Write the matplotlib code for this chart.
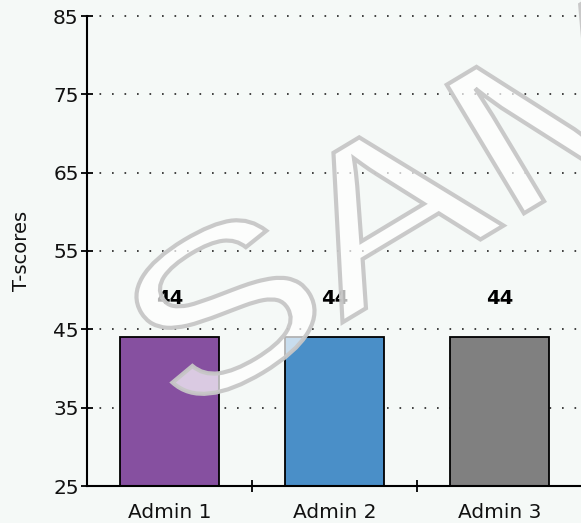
import matplotlib
matplotlib.use("Agg")
import matplotlib.pyplot as plt
from matplotlib.textpath import TextPath
from matplotlib.patches import PathPatch
from matplotlib.font_manager import FontProperties
from matplotlib.transforms import Affine2D, IdentityTransform

categories = ["Admin 1", "Admin 2", "Admin 3"]
values = [44, 44, 44]
colors = ["#8650a0", "#4a8fc8", "#808080"]
yticks = [25, 35, 45, 55, 65, 75, 85]
ylabel = "T-scores"
watermark = "SAMPLE"

BG = "#f5f9f7"
W, H = 581, 523
fig = plt.figure(figsize=(W / 100, H / 100), dpi=100, facecolor=BG)
ax_w = 582 - 87
ax = fig.add_axes([87 / W, 37 / H, ax_w / W, (507 - 37) / H])
ax.set_facecolor(BG)

x = list(range(len(categories)))
ax.bar(x, values, width=0.6, color=colors, edgecolor="black", linewidth=1.3, zorder=3)

for xi, v in zip(x, values):
    ax.annotate(str(v), xy=(xi, v), xytext=(0, 28), textcoords="offset points",
                ha="center", va="center", fontsize=14, fontweight="bold", color="black", zorder=4)

ax.set_xlim(-0.5, len(categories) - 0.5)
ax.set_ylim(yticks[0], yticks[-1])
ax.set_yticks(yticks)
ax.set_xticks([i + 0.5 for i in x])
ax.set_xticklabels([])
ax.set_xticks(x, minor=True)
ax.set_xticklabels(categories, minor=True)
ax.tick_params(axis="x", which="minor", length=0, pad=12, labelsize=14.5, labelcolor="#111111")
ax.tick_params(axis="x", which="major", direction="inout", length=8, width=1.3)
ax.tick_params(axis="y", direction="inout", length=8, width=1.3, pad=2, labelsize=14.5, labelcolor="#111111")

for s in ["top", "right"]:
    ax.spines[s].set_visible(False)
for s in ["left", "bottom"]:
    ax.spines[s].set_linewidth(1.5)
    ax.spines[s].set_color("black")
    ax.spines[s].set_zorder(5)

ax.yaxis.grid(True, color="#222222", linewidth=1.2, linestyle=(0, (1, 6.5)), zorder=0)
for gl in ax.get_ygridlines():
    gl.set_clip_on(False)
ax.set_axisbelow(True)

ax.set_ylabel(ylabel, fontsize=14, color="#111111")
ax.yaxis.set_label_coords((31 - 87) / ax_w, 0.5)

# watermark
fp = FontProperties(family="Liberation Sans")
tp = TextPath((0, 0), watermark, size=218, prop=fp)
tr = Affine2D().scale(1.3, 1.0).rotate_deg(31).translate(180, H - 420)
path = tr.transform_path(tp)
patch = PathPatch(path, facecolor=(1, 1, 1, 0.7), edgecolor=(0.78, 0.78, 0.78, 0.95),
                  linewidth=3, transform=IdentityTransform(), zorder=10)
fig.add_artist(patch)

fig.savefig("out.png", dpi=100, facecolor=BG)
